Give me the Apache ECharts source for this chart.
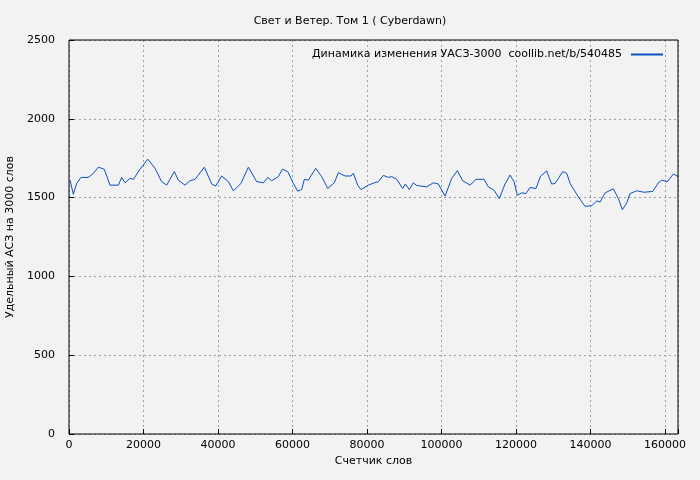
<!DOCTYPE html>
<html>
<head>
<meta charset="utf-8">
<script src="https://cdn.jsdelivr.net/npm/echarts@6/dist/echarts.min.js"></script>
<style>
  html, body { margin: 0; padding: 0; background: #f2f2f2; }
  #chart { width: 700px; height: 480px; }
</style>
</head>
<body>
<div id="chart"></div>
<script>
// Счетчик слов / удельный АСЗ
const wordCounts = [270, 1160, 2060, 3220, 5190, 6530, 7870, 9480, 11010, 13250, 14140, 15040, 16380, 17280, 19070, 21130, 23090, 24880, 26230, 28280, 29350, 31150, 32490, 33830, 36340, 38310, 39380, 40990, 42780, 44120, 46180, 48150, 50390, 52180, 53350, 54420, 56210, 57290, 58720, 60240, 61400, 62480, 63190, 64260, 66230, 67840, 69460, 71240, 72310, 74110, 75720, 76330, 77510, 78400, 80370, 81980, 83050, 84390, 85730, 86640, 87980, 89590, 90300, 91370, 92440, 93340, 96030, 97820, 99160, 100960, 102750, 104250, 105710, 107670, 109280, 111430, 112580, 114110, 115530, 117070, 118410, 119480, 120370, 121540, 122700, 123770, 125380, 126630, 128240, 129580, 130500, 132560, 133630, 134530, 136760, 138550, 140340, 141690, 142570, 143920, 146140, 147490, 148560, 149740, 150630, 152420, 154390, 156720, 158230, 159120, 160650, 162250, 163590];
const asz = [1611, 1521, 1590, 1628, 1628, 1654, 1693, 1680, 1579, 1579, 1628, 1594, 1622, 1616, 1680, 1744, 1686, 1601, 1579, 1665, 1611, 1579, 1607, 1616, 1693, 1586, 1573, 1637, 1601, 1543, 1590, 1693, 1601, 1594, 1628, 1607, 1633, 1680, 1665, 1590, 1541, 1551, 1616, 1611, 1686, 1633, 1558, 1594, 1658, 1637, 1637, 1654, 1579, 1551, 1579, 1594, 1601, 1641, 1628, 1633, 1616, 1558, 1586, 1551, 1594, 1577, 1568, 1594, 1586, 1509, 1622, 1671, 1607, 1579, 1616, 1616, 1568, 1547, 1494, 1586, 1643, 1601, 1515, 1530, 1526, 1564, 1558, 1637, 1669, 1586, 1590, 1665, 1654, 1590, 1504, 1444, 1449, 1479, 1472, 1530, 1556, 1494, 1423, 1466, 1526, 1543, 1534, 1539, 1594, 1611, 1601, 1650, 1633];

const font = 'DejaVu Sans';
const chart = echarts.init(document.getElementById('chart'));
chart.setOption({
    backgroundColor: '#f2f2f2',
    animation: false,
    textStyle: { fontFamily: font, color: '#000' },
    title: {
        text: 'Свет и Ветер. Том 1 ( Cyberdawn)',
        left: 'center', top: 11,
        textStyle: { fontFamily: font, fontSize: 11, fontWeight: 'normal', color: '#000' }
    },
    legend: {
        right: 32, top: 44,
        itemWidth: 32, itemHeight: 2, itemGap: 8,
        icon: 'rect',
        align: 'right',
        textStyle: { fontFamily: font, fontSize: 11, color: '#000', padding: [0, 4, 0, 0] },
        data: ['Динамика изменения УАСЗ-3000  coollib.net/b/540485']
    },
    grid: { left: 69, right: 22, top: 40, bottom: 46, outerBoundsMode: 'none', containLabel: false },
    xAxis: {
        type: 'value', min: 0, max: 163500, interval: 20000,
        name: 'Счетчик слов', nameLocation: 'middle', nameGap: 22,
        nameTextStyle: { fontFamily: font, fontSize: 11 },
        axisLine: { show: false },
        axisTick: { inside: true, length: 5, lineStyle: { color: '#000' } },
        axisLabel: { fontFamily: font, fontSize: 11, color: '#000', margin: 6,
            formatter: v => v > 163000 ? '' : String(v) },
        splitLine: { show: true, lineStyle: { type: [2, 3], color: '#a0a0a0' } }
    },
    yAxis: {
        type: 'value', min: 0, max: 2500, interval: 500,
        name: 'Удельный АСЗ на 3000 слов', nameLocation: 'middle', nameGap: 52,
        nameTextStyle: { fontFamily: font, fontSize: 11 },
        axisLine: { show: false },
        axisTick: { inside: true, length: 5, lineStyle: { color: '#000' } },
        axisLabel: { fontFamily: font, fontSize: 11, color: '#000', margin: 14,
            formatter: v => String(v) },
        splitLine: { show: true, lineStyle: { type: [2, 3], color: '#a0a0a0' } }
    },
    graphic: [{
        type: 'rect', silent: true, z: 10,
        shape: { x: 69, y: 40, width: 609, height: 394 },
        style: { fill: 'none', stroke: '#000', lineWidth: 1 }
    }],
    series: [{
        name: 'Динамика изменения УАСЗ-3000  coollib.net/b/540485',
        type: 'line',
        showSymbol: false,
        lineStyle: { color: '#0a50c0', width: 1 },
        itemStyle: { color: '#0a50c0' },
        data: wordCounts.map((w, i) => [w, asz[i]])
    }]
});
</script>
</body>
</html>
